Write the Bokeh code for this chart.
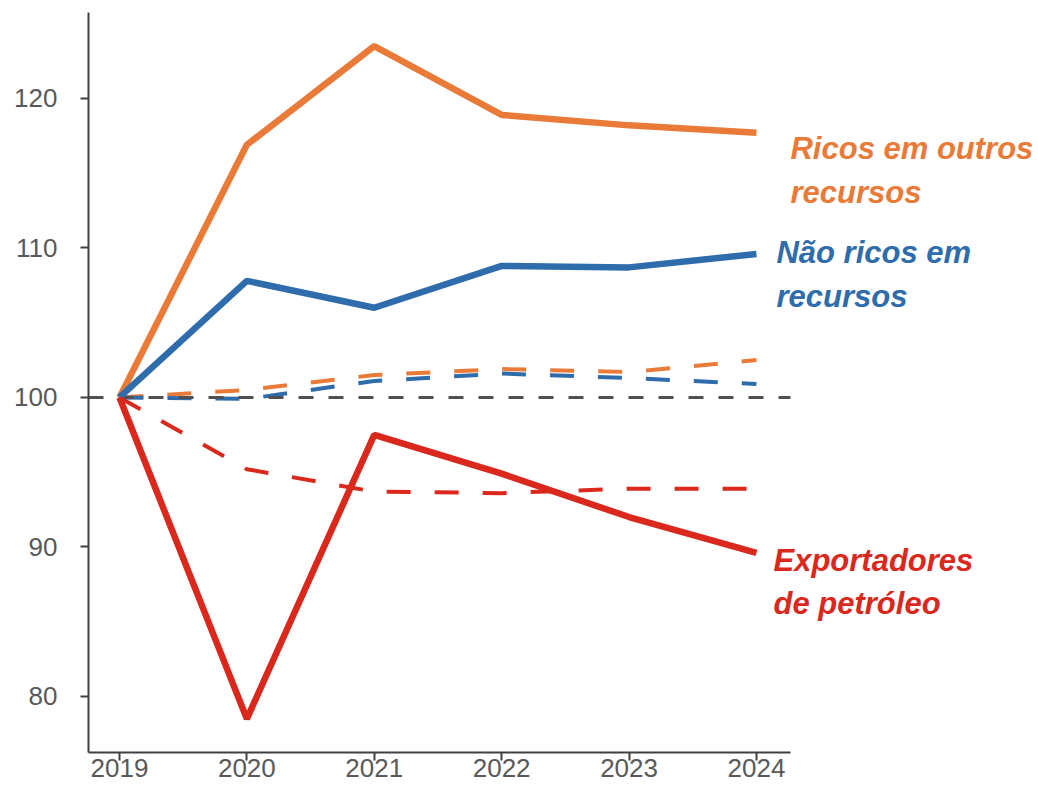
from bokeh.plotting import figure
from bokeh.models import Range1d, FixedTicker
from bokeh.core.properties import value
from bokeh.embed import file_html
from bokeh.resources import INLINE

years = [2019, 2020, 2021, 2022, 2023, 2024]
ricos_outros = [100, 116.9, 123.5, 118.9, 118.2, 117.7]
nao_ricos = [100, 107.8, 106.0, 108.8, 108.7, 109.6]
petroleo = [100, 78.5, 97.5, 94.9, 92.0, 89.6]
ricos_outros_pre = [100, 100.5, 101.5, 101.9, 101.7, 102.5]
nao_ricos_pre = [100, 99.9, 101.1, 101.6, 101.3, 100.9]
petroleo_pre = [100, 95.2, 93.7, 93.6, 93.9, 93.9]
y_ticks = [80, 90, 100, 110, 120]
baseline = 100

ORANGE = "#EA7A38"
BLUE = "#2E6CAB"
RED = "#DA291C"

x0, x1 = 2018.757, 2024.267
p = figure(width=1038, height=787, output_backend="svg", toolbar_location=None,
           x_range=Range1d(x0, 2026.214), y_range=Range1d(76.25, 125.75),
           min_border_left=88, min_border_top=12, min_border_right=0, min_border_bottom=35)
p.outline_line_color = None
p.grid.visible = False
p.background_fill_color = "white"

# projections (dashed)
p.line(years, ricos_outros_pre, line_color=ORANGE, line_width=4, line_dash="24 24")
p.line(years, nao_ricos_pre, line_color=BLUE, line_width=4, line_dash="24 24")
p.line(years, petroleo_pre, line_color=RED, line_width=4, line_dash="24 24")
# baseline
p.line([x0, x1], [baseline, baseline], line_color="#505050", line_width=3, line_dash="15 15")
# actual (solid)
p.line(years, ricos_outros, line_color=ORANGE, line_width=6.5)
p.line(years, nao_ricos, line_color=BLUE, line_width=6.5)
p.line(years, petroleo, line_color=RED, line_width=6.5)

font = value("Liberation Sans")
labels = [
    (["Ricos em outros", "recursos"], 2024.267, [116.66, 113.72], ORANGE),
    (["Não ricos em", "recursos"], 2024.157, [109.70, 106.76], BLUE),
    (["Exportadores", "de petróleo"], 2024.134, [89.10, 86.22], RED),
]
for lines, lx, lys, col in labels:
    p.text([lx] * len(lines), lys, text=lines, text_color=col, text_font=font,
           text_font_size="31px", text_font_style="bold italic",
           text_baseline="middle", text_align="left")

for ax in (p.xaxis, p.yaxis):
    ax.axis_line_color = "#404040"
    ax.axis_line_width = 2
    ax.major_tick_line_color = "#404040"
    ax.major_tick_line_width = 2
    ax.major_tick_out = 8
    ax.major_tick_in = 0
    ax.minor_tick_line_color = None
    ax.major_label_text_font = "Liberation Sans"
    ax.major_label_text_font_size = "26px"
    ax.major_label_text_color = "#595959"

p.xaxis.ticker = FixedTicker(ticks=years)
p.xaxis.bounds = (x0, x1)
p.xaxis.major_label_standoff = -2
p.yaxis.ticker = FixedTicker(ticks=y_ticks)
p.yaxis.major_label_standoff = 23

open("out.html", "w").write(file_html(p, INLINE))
